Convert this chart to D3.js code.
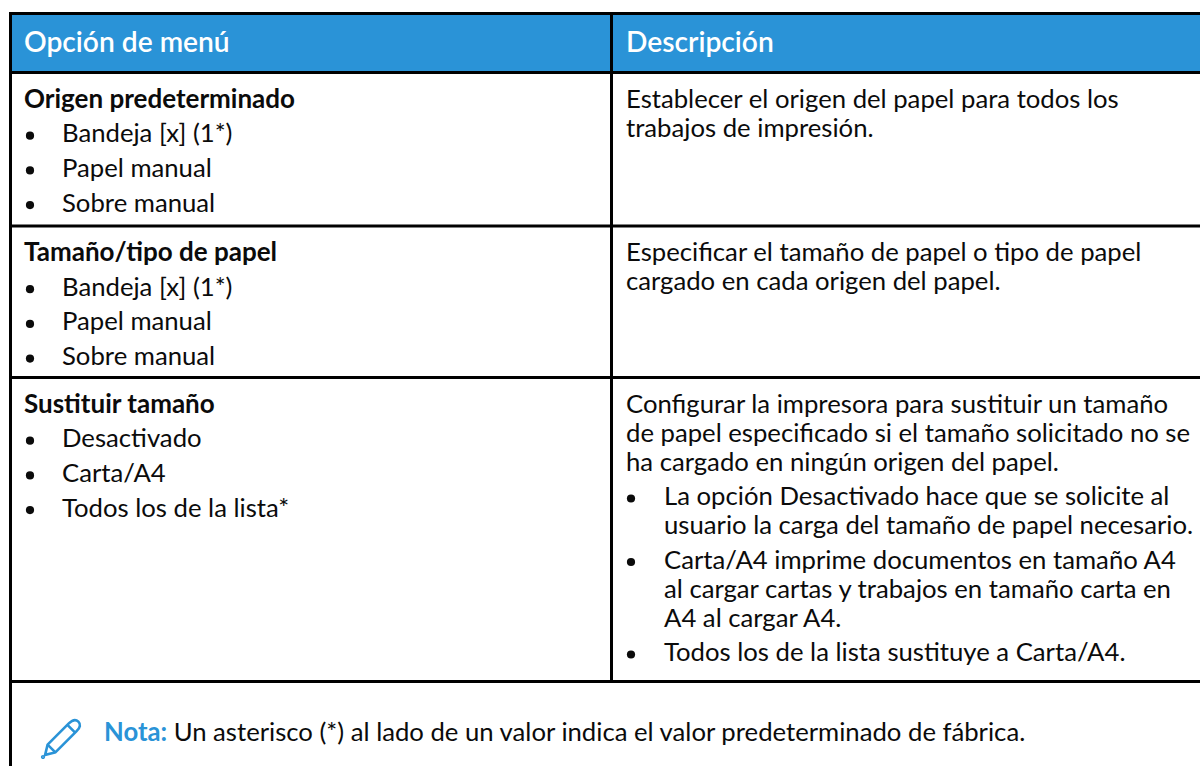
<!DOCTYPE html>
<html>
<head>
<meta charset="utf-8">
<style>
  html, body { margin: 0; background: #fff; }
  svg { display: block; }
  text { font-family: Lato, sans-serif; font-size: 25.7px; fill: #0b0b0b; }
</style>
<script src="https://cdn.jsdelivr.net/npm/d3@7"></script>
</head>
<body>
<svg width="1200" height="766"></svg>
<script>
const headers = ['Opción de menú', 'Descripción']
const optionTitles = ['Origen predeterminado', 'Tamaño/tipo de papel', 'Sustituir tamaño']
const optionItems = [
    ['Bandeja [x] (1*)', 'Papel manual', 'Sobre manual'],
    ['Bandeja [x] (1*)', 'Papel manual', 'Sobre manual'],
    ['Desactivado', 'Carta/A4', 'Todos los de la lista*']
]
const descriptions = [
    ['Establecer el origen del papel para todos los', 'trabajos de impresión.'],
    ['Especificar el tamaño de papel o tipo de papel', 'cargado en cada origen del papel.'],
    ['Configurar la impresora para sustituir un tamaño', 'de papel especificado si el tamaño solicitado no se', 'ha cargado en ningún origen del papel.']
]
const descriptionBullets = [
    [],
    [],
    [
        ['La opción Desactivado hace que se solicite al', 'usuario la carga del tamaño de papel necesario.'],
        ['Carta/A4 imprime documentos en tamaño A4', 'al cargar cartas y trabajos en tamaño carta en', 'A4 al cargar A4.'],
        ['Todos los de la lista sustituye a Carta/A4.']
    ]
]
const noteLabel = 'Nota:'
const noteText = ' Un asterisco (*) al lado de un valor indica el valor predeterminado de fábrica.'

const svg = d3.select('svg')
const width = +svg.attr('width')
const height = +svg.attr('height')

const black = '#000'
const blue = '#2a93d7'
const rowEdges = [72.5, 226, 377.5, 681.5]
const colX = 611.5
const left = {text: 24, bullet: 30, item: 62}
const right = {text: 626, bullet: 631, item: 664}
const firstBaseline = 35
const lineStep = 29
const itemStep = 34.7

// header band
svg.append('rect').attr('x',11).attr('y',14).attr('width',width).attr('height',58).attr('fill',blue)

const g = svg.append('g')

headers.forEach((h,i) => {
    g.append('text')
        .attr('x', i ? right.text : left.text)
        .attr('y', 52)
        .style('fill','#fff')
        .style('font-size','28.2px')
        .style('font-weight',600)
        .text(h)
})

const bullet = (x,y) => g.append('circle').attr('cx',x).attr('cy',y-6.5).attr('r',4.1).attr('fill','#0b0b0b')

optionTitles.forEach((t,i) => {
    const top = rowEdges[i]
    g.append('text').attr('x',left.text).attr('y',top+firstBaseline).style('font-weight',700).style('font-size','26px').text(t)
    optionItems[i].forEach((item,j) => {
        const y = top+firstBaseline+itemStep*(j+1)
        bullet(left.bullet,y)
        g.append('text').attr('x',left.item).attr('y',y).text(item)
    })
})

descriptions.forEach((lines,i) => {
    let y = rowEdges[i]+firstBaseline
    lines.forEach(l => {
        g.append('text').attr('x',right.text).attr('y',y).text(l)
        y += lineStep
    })
    y -= lineStep
    descriptionBullets[i].forEach(b => {
        y += 34.5
        bullet(right.bullet,y)
        b.forEach((l,j) => {
            g.append('text').attr('x',right.item).attr('y',y).text(l)
            if (j < b.length-1) y += lineStep
        })
    })
})

const note = g.append('text').attr('x',104).attr('y',741)
note.append('tspan').style('font-weight',700).style('fill',blue).text(noteLabel)
note.append('tspan').attr('xml:space','preserve').text(noteText)

// pencil icon
const pencil = svg.append('g')
    .attr('transform','translate(43,757) rotate(-45)')
    .attr('fill','none').attr('stroke',blue).attr('stroke-width',2.6)
pencil.append('path').attr('d','M3,0 L12,-5.5 H42 Q50,-5.5 50,0 Q50,5.5 42,5.5 H12 Z')
pencil.append('path').attr('d','M12,-5.5 V5.5 M40,-5.5 V5.5')
pencil.append('circle').attr('cx',0).attr('cy',0).attr('r',0.8)

// rules
const rule = (x1,y1,x2,y2,w) => svg.append('line')
    .attr('x1',x1).attr('y1',y1).attr('x2',x2).attr('y2',y2)
    .attr('stroke',black).attr('stroke-width',w)
rule(10.5,12,10.5,height,3)
rule(9,13.5,width,13.5,3)
rowEdges.forEach(y => rule(9,y,width,y,3))
rule(colX,13,colX,rowEdges[3],3)
</script>
</body>
</html>
